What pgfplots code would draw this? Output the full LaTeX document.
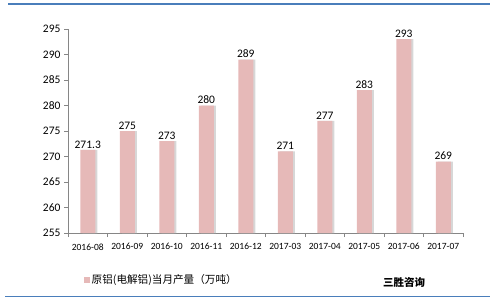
\documentclass[border=0pt]{standalone}
\usepackage{pgfplots}
\pgfplotsset{compat=1.18}
\usepackage{fontspec}
\setmainfont{Carlito}
\newfontfamily\cjk{Noto Sans CJK SC}
\definecolor{barpink}{RGB}{230,185,184}
\definecolor{shadowgray}{RGB}{215,215,215}
\definecolor{axisgray}{RGB}{134,134,134}
\definecolor{bluel}{RGB}{74,126,187}
\begin{document}
\begin{tikzpicture}[x=1pt,y=1pt]
\useasboundingbox (0,0) rectangle (500,303);
\draw[bluel, line width=1.6pt] (8,299) -- (490,299);
\draw[bluel, line width=1.6pt] (5,6.5) -- (490,6.5);
\begin{axis}[
  at={(68pt,70pt)}, anchor=south west,
  scale only axis, width=395pt, height=204pt,
  xmin=-0.5, xmax=9.5, ymin=255, ymax=295,
  ytick={255,260,...,295},
  xtick={-0.5,0.5,...,9.5}, xticklabels={},
  extra x ticks={0,1,...,9},
  extra x tick labels={2016-08,2016-09,2016-10,2016-11,2016-12,2017-03,2017-04,2017-05,2017-06,2017-07},
  extra x tick style={major tick length=0pt, xticklabel style={yshift=-7pt}},
  axis x line=bottom, axis y line=left,
  axis line style={-, draw=axisgray},
  tick style={draw=axisgray},
  tick align=outside, major tick length=4pt,
  /pgf/number format/assume math mode=true,
  yticklabel style={font=\fontsize{11.5}{13}\selectfont},
  xticklabel style={font=\fontsize{9.5}{11}\selectfont},
  legend style={at={(0.033,-0.23)}, anchor=west, draw=none, fill=none,
    font=\cjk\fontsize{10.6}{12}\selectfont},
  legend image code/.code={\fill[barpink] (0pt,-3pt) rectangle (5.5pt,3pt);},
]
\addplot[ybar, bar width=15pt, bar shift=2pt, fill=shadowgray, draw=none, forget plot]
  coordinates {(0,271.3) (1,275) (2,273) (3,280) (4,289) (5,271) (6,277) (7,283) (8,293) (9,269)};
\addplot[ybar, bar width=15pt, bar shift=0pt, fill=barpink, draw=none,
  nodes near coords, nodes near coords style={font=\fontsize{11.5}{13}\selectfont, anchor=south, inner sep=1.5pt}]
  coordinates {(0,271.3) (1,275) (2,273) (3,280) (4,289) (5,271) (6,277) (7,283) (8,293) (9,269)};
\addlegendentry{原铝(电解铝)当月产量（万吨）}
\end{axis}
\node[font=\cjk\bfseries\fontsize{10.5}{12}\selectfont] at (404,21) {三胜咨询};
\end{tikzpicture}
\end{document}
